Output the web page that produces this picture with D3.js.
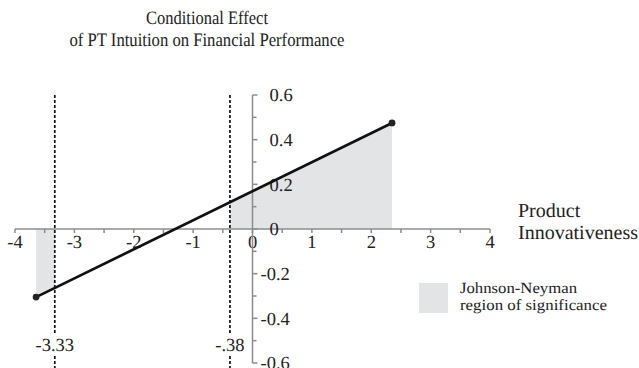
<!DOCTYPE html>
<html>
<head>
<meta charset="utf-8">
<script src="https://cdn.jsdelivr.net/npm/d3@7"></script>
<style>
  body { margin: 0; background: #fff; }
  svg text { font-family: 'Liberation Serif', serif; fill: #222; text-rendering: geometricPrecision; }
</style>
</head>
<body>
<script>
// values
const titleLines = ['Conditional Effect', 'of PT Intuition on Financial Performance']
const xTicks = [-4, -3, -2, -1, 0, 1, 2, 3, 4]
const xMinor = [-3.5, -2.5, -1.5, -0.5, 0.5, 1.5, 2.5, 3.5]
const yTicks = [-0.6, -0.4, -0.2, 0, 0.2, 0.4, 0.6]
const yMinor = [-0.5, -0.3, -0.1, 0.1, 0.3, 0.5]
const yLabels = ['-0.6', '-0.4', '-0.2', '0', '0.2', '0.4', '0.6']
const moderator = [-3.645, 2.35]
const effect = [-0.305, 0.475]
const jnPoints = [-3.33, -0.38]
const jnLabels = ['-3.33', '-.38']
const regions = [[-3.645, -3.33], [-0.38, 2.35]]
const legendLines = ['Johnson-Neyman', 'region of significance']

const w = 639
const h = 368
const grey = '#8c8c8c'
const shade = '#e3e4e6'

const svg = d3.select('body')
  .append('svg')
  .attr('width', w)
  .attr('height', h)

const x = d3.scaleLinear()
  .domain([-4, 4])
  .range([15, 490])

const y = d3.scaleLinear()
  .domain([-0.6, 0.6])
  .range([363, 95])

const pts = moderator.map((m, i) => [m, effect[i]])

// shaded JN regions: area between line and zero, clipped to each interval
const defs = svg.append('defs')
const clip = defs.append('clipPath').attr('id', 'jn-clip')
regions.forEach(r => {
  clip.append('rect')
    .attr('x', x(r[0]))
    .attr('y', 0)
    .attr('width', x(r[1]) - x(r[0]))
    .attr('height', h)
})

const area = d3.area()
  .x(d => x(d[0]))
  .y0(y(0))
  .y1(d => y(d[1]))

svg.append('path')
  .datum(pts)
  .attr('d', area)
  .attr('fill', shade)
  .attr('clip-path', 'url(#jn-clip)')

// x axis
const xAxis = svg.append('g').attr('class', 'x-axis')
xAxis.append('line')
  .attr('x1', x(-4)).attr('x2', x(4))
  .attr('y1', y(0)).attr('y2', y(0))
  .attr('stroke', grey).attr('stroke-width', 1.5)
xAxis.selectAll('.tick')
  .data(xTicks.concat(xMinor))
  .enter()
  .append('line')
  .attr('x1', d => x(d)).attr('x2', d => x(d))
  .attr('y1', y(0)).attr('y2', y(0) + 4)
  .attr('stroke', grey).attr('stroke-width', 1.5)
xAxis.selectAll('.lab')
  .data(xTicks)
  .enter()
  .append('text')
  .attr('x', d => x(d))
  .attr('y', y(0) + 19)
  .attr('text-anchor', 'middle')
  .style('font-size', '18.5px')
  .text(d => d)

// y axis
const yAxis = svg.append('g').attr('class', 'y-axis')
yAxis.append('line')
  .attr('x1', x(0)).attr('x2', x(0))
  .attr('y1', y(-0.6)).attr('y2', y(0.6))
  .attr('stroke', grey).attr('stroke-width', 1.5)
yAxis.selectAll('.tick')
  .data(yTicks)
  .enter()
  .append('line')
  .attr('x1', x(0)).attr('x2', x(0) + 5)
  .attr('y1', d => y(d)).attr('y2', d => y(d))
  .attr('stroke', grey).attr('stroke-width', 1.5)
yAxis.selectAll('.minor')
  .data(yMinor)
  .enter()
  .append('line')
  .attr('x1', x(0)).attr('x2', x(0) + 4)
  .attr('y1', d => y(d)).attr('y2', d => y(d))
  .attr('stroke', grey).attr('stroke-width', 1.5)
yAxis.selectAll('.lab')
  .data(yTicks)
  .enter()
  .append('text')
  .attr('x', d => x(0) + (d < 0 ? 8 : 17))
  .attr('y', d => y(d))
  .attr('dy', '0.35em')
  .style('font-size', '18.5px')
  .text((d, i) => yLabels[i])

// dashed JN lines with labels
jnPoints.forEach((p, i) => {
  svg.append('line')
    .attr('x1', x(p)).attr('x2', x(p))
    .attr('y1', y(0.6)).attr('y2', 333)
    .attr('stroke', '#111').attr('stroke-width', 1.7)
    .attr('stroke-dasharray', '3,2')
  svg.append('line')
    .attr('x1', x(p)).attr('x2', x(p))
    .attr('y1', 356).attr('y2', h)
    .attr('stroke', '#111').attr('stroke-width', 1.7)
    .attr('stroke-dasharray', '3,2')
  svg.append('text')
    .attr('x', x(p))
    .attr('y', 345)
    .attr('dy', '0.35em')
    .attr('text-anchor', 'middle')
    .style('font-size', '18.5px')
    .text(jnLabels[i])
})

// conditional effect line
svg.append('path')
  .datum(pts)
  .attr('d', d3.line().x(d => x(d[0])).y(d => y(d[1])))
  .attr('fill', 'none')
  .attr('stroke', '#111')
  .attr('stroke-width', 2.7)

svg.selectAll('circle')
  .data(pts)
  .enter()
  .append('circle')
  .attr('cx', d => x(d[0]))
  .attr('cy', d => y(d[1]))
  .attr('r', 3.4)
  .attr('fill', '#222')

// title
svg.selectAll('.title')
  .data(titleLines)
  .enter()
  .append('text')
  .attr('x', 207)
  .attr('y', (d, i) => 17 + i * 22)
  .attr('dy', '0.35em')
  .attr('text-anchor', 'middle')
  .attr('textLength', (d, i) => i ? 275 : 122)
  .attr('lengthAdjust', 'spacingAndGlyphs')
  .style('font-size', '19px')
  .text(d => d)

// axis title
svg.selectAll('.xtitle')
  .data(['Product', 'Innovativeness'])
  .enter()
  .append('text')
  .attr('x', 518)
  .attr('y', (d, i) => 210 + i * 22)
  .attr('dy', '0.35em')
  .style('font-size', '20px')
  .text(d => d)

// legend
svg.append('rect')
  .attr('x', 419).attr('y', 283)
  .attr('width', 29).attr('height', 30)
  .attr('fill', shade)
svg.selectAll('.leg')
  .data(legendLines)
  .enter()
  .append('text')
  .attr('x', 460)
  .attr('y', (d, i) => 288 + i * 17)
  .attr('dy', '0.35em')
  .attr('textLength', (d, i) => i ? 147 : 117)
  .attr('lengthAdjust', 'spacingAndGlyphs')
  .style('font-size', '15.5px')
  .text(d => d)
</script>
</body>
</html>
